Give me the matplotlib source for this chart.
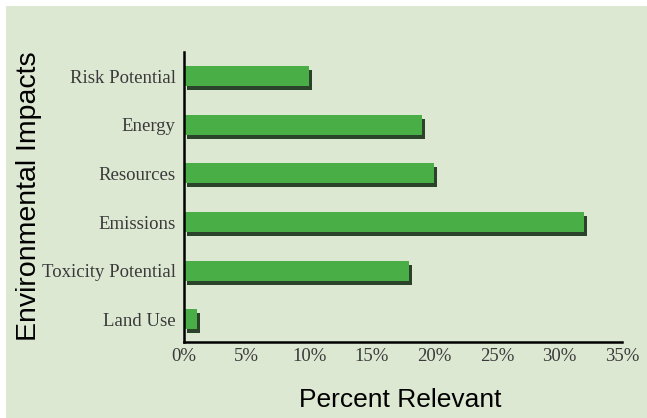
import matplotlib
matplotlib.use("Agg")
import matplotlib.pyplot as plt
import matplotlib.transforms as mtransforms
from matplotlib.patches import Rectangle

categories = ["Land Use", "Toxicity Potential", "Emissions", "Resources", "Energy", "Risk Potential"]
values = [1, 18, 32, 20, 19, 10]
xticks = [0, 5, 10, 15, 20, 25, 30, 35]
xtick_labels = ["0%", "5%", "10%", "15%", "20%", "25%", "30%", "35%"]

bg = "#dde8d3"
fig = plt.figure(figsize=(6.47, 4.18), dpi=100)
fig.patch.set_facecolor("white")
fig.patches.append(Rectangle((6 / 647, 0), 1, 1 - 6 / 418, transform=fig.transFigure,
                             facecolor=bg, edgecolor="none", zorder=-10))

ax = fig.add_axes([184 / 647, 1 - 342 / 418, (622 - 184) / 647, (342 - 52) / 418])
ax.set_facecolor("none")

ypos = list(range(len(categories)))
h = 0.41
shadow = ax.transData + mtransforms.ScaledTranslation(3 / 100, -4 / 100, fig.dpi_scale_trans)
for y, v in zip(ypos, values):
    ax.barh(y, v, left=0, height=h, color="#2b432b", transform=shadow, zorder=2)
ax.barh(ypos, values, left=0, height=h, color="#4aae47", zorder=3)

ax.set_xlim(0, 35)
ax.set_ylim(-0.47, 5.5)
ax.set_yticks(ypos)
ax.set_yticklabels(categories, family="Liberation Serif", fontsize=13.5, color="#3a3a3a")
ax.set_xticks(xticks)
ax.set_xticklabels(xtick_labels, family="Liberation Serif", fontsize=13.5, color="#3a3a3a")
ax.tick_params(axis="both", length=0)
ax.tick_params(axis="y", pad=6)
ax.tick_params(axis="x", pad=4)

for s in ["top", "right"]:
    ax.spines[s].set_visible(False)
for s in ["left", "bottom"]:
    ax.spines[s].set_linewidth(1.8)
    ax.spines[s].set_color("black")
    ax.spines[s].set_zorder(5)

fig.text(29 / 647, 1 - 196 / 418, "Environmental Impacts", rotation=90, ha="center", va="center",
         family="Liberation Sans", fontsize=20.5, color="black")
fig.text(400 / 647, 1 - 400 / 418, "Percent Relevant", ha="center", va="center",
         family="Liberation Sans", fontsize=19, color="black")

fig.savefig("out.png", dpi=100, facecolor=fig.get_facecolor())
